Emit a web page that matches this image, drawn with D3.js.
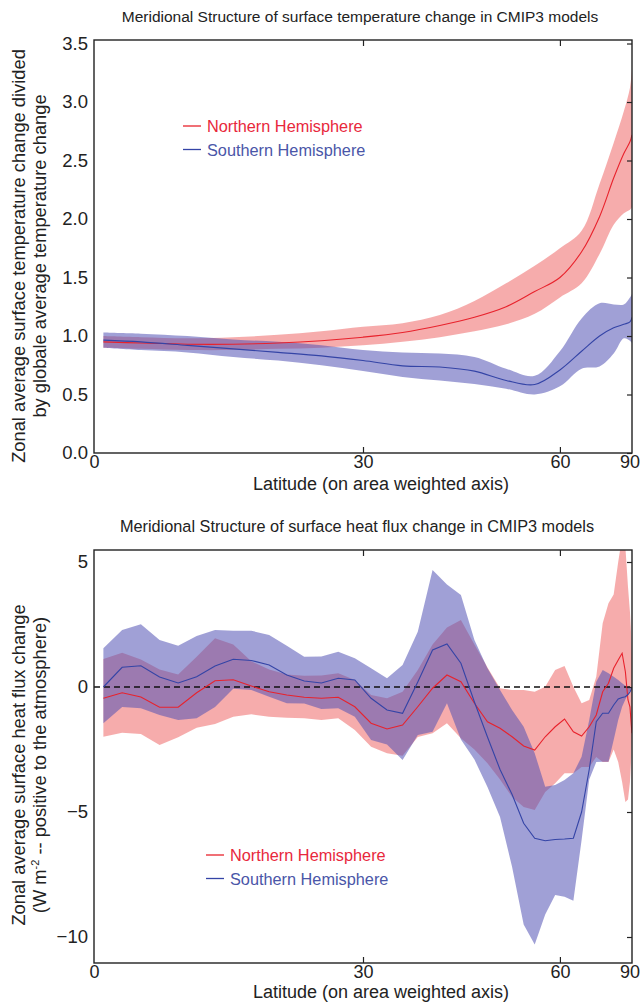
<!DOCTYPE html>
<html lang="en">
<head>
<meta charset="UTF-8">
<script src="https://cdnjs.cloudflare.com/ajax/libs/d3/7.8.5/d3.min.js"></script>
<title>CMIP3 meridional structure</title>
<style>
  body { margin: 0; background: #fff; }
  svg text { font-family: "Liberation Sans", Arial, Helvetica, sans-serif; fill: #222; }
</style>
</head>
<body>
<script>
// ---- data: top panel (surface temperature change / global mean) ----
var tempLat = [1, 5, 10, 15, 20, 25, 30, 35, 40, 45, 50, 55, 60, 65, 70, 75, 80, 85, 90];
var nhTemp   = [0.95, 0.94, 0.93, 0.93, 0.94, 0.96, 0.99, 1.03, 1.09, 1.16, 1.25, 1.38, 1.50, 1.72, 2.02, 2.35, 2.56, 2.66, 2.72];
var nhTempHi = [1.00, 0.99, 0.98, 0.99, 1.01, 1.04, 1.08, 1.11, 1.18, 1.30, 1.45, 1.60, 1.75, 1.90, 2.30, 2.65, 2.92, 3.12, 3.28];
var nhTempLo = [0.90, 0.89, 0.88, 0.88, 0.89, 0.90, 0.92, 0.95, 0.99, 1.04, 1.10, 1.19, 1.33, 1.45, 1.70, 1.95, 2.05, 2.08, 2.10];
var shTemp   = [0.965, 0.95, 0.92, 0.89, 0.86, 0.83, 0.79, 0.745, 0.735, 0.70, 0.62, 0.585, 0.71, 0.87, 1.00, 1.07, 1.10, 1.12, 1.16];
var shTempHi = [1.03, 1.02, 1.00, 0.97, 0.95, 0.92, 0.88, 0.86, 0.85, 0.82, 0.72, 0.66, 0.87, 1.15, 1.28, 1.27, 1.27, 1.33, 1.36];
var shTempLo = [0.90, 0.88, 0.86, 0.82, 0.79, 0.75, 0.70, 0.65, 0.62, 0.59, 0.55, 0.50, 0.57, 0.72, 0.74, 0.85, 0.98, 0.96, 0.94];

// ---- data: bottom panel (surface heat flux change, W m-2) ----
var fluxLat = [1, 3, 5, 7, 9, 11, 13, 15, 17, 19, 21, 23, 25, 27, 29, 31, 33, 35, 37, 39, 41, 43, 45,
               47, 49, 51, 53, 55, 57, 59, 61, 63, 65, 67, 69, 71, 73, 75, 77, 79, 81, 83, 85, 87, 89];
var nhFlux   = [-0.45, -0.23, -0.40, -0.81, -0.81, -0.23, 0.25, 0.29, 0.04, -0.19, -0.32, -0.41, -0.45, -0.41, -0.79,
                -1.45, -1.68, -1.52, -0.79, -0.05, 0.48, 0.21, -0.65, -1.39, -1.65, -1.99, -2.36, -2.52, -1.99, -1.59,
                -1.28, -1.79, -1.96, -1.59, -1.12, -0.19, 0.15, 0.75, 1.08, 1.35, 0.61, -0.52, -0.79, -1.50, -1.85];
var nhFluxHi = [1.12, 1.37, 1.10, 0.70, 0.50, 1.21, 1.95, 1.70, 1.03, 0.70, 0.50, 0.45, 0.46, 0.55, 0.28,
                -0.32, -0.45, -0.19, 0.68, 1.70, 2.38, 2.68, 1.70, 0.78, -0.05, -0.12, -0.12, -0.19, 0.01, 0.68,
                0.84, 0.01, -0.65, -0.52, 0.41, 2.55, 3.35, 3.70, 5.00, 6.00, 5.60, 4.00, 3.00, 2.00, 1.20];
var nhFluxLo = [-1.99, -1.83, -1.88, -2.32, -2.01, -1.63, -1.48, -1.19, -1.09, -1.19, -1.23, -1.25, -1.32, -1.25, -1.72,
                -2.39, -2.65, -2.75, -2.00, -1.85, -1.45, -2.05, -2.50, -3.05, -3.70, -4.40, -4.80, -4.92, -4.20, -3.85,
                -3.45, -3.45, -3.20, -3.20, -2.80, -3.00, -3.00, -2.50, -3.00, -3.80, -4.60, -4.50, -3.80, -2.80, -1.90];
var shFlux   = [0.00, 0.79, 0.85, 0.40, 0.16, 0.41, 0.84, 1.11, 1.06, 0.88, 0.48, 0.24, 0.16, 0.35, 0.28,
                -0.45, -0.92, -1.05, 0.20, 1.48, 1.72, 0.95, -0.60, -2.00, -3.30, -4.30, -5.45, -6.05, -6.15, -6.10,
                -6.08, -6.05, -5.00, -3.30, -1.39, -1.05, -1.05, -0.72, -0.48, -0.42, -0.39, -0.30, -0.20, -0.10, -0.02];
var shFluxHi = [1.55, 2.28, 2.51, 1.88, 1.65, 2.04, 2.28, 2.25, 2.25, 2.08, 1.65, 1.21, 1.22, 1.41, 1.15,
                0.75, 0.35, 0.88, 2.21, 4.68, 4.10, 3.68, 1.88, 0.75, -0.12, -0.92, -1.59, -2.65, -3.99, -3.92,
                -3.72, -3.45, -2.79, -1.32, 0.21, 0.68, 0.55, 0.41, 0.28, 0.15, 0.05, 0.02, 0.00, 0.00, 0.00];
var shFluxLo = [-1.45, -0.80, -0.85, -1.12, -1.32, -1.25, -0.80, -0.07, -0.12, -0.39, -0.65, -0.66, -0.88, -0.85, -1.19,
                -2.12, -2.30, -2.92, -1.92, -1.79, -0.65, -2.10, -2.90, -4.00, -5.20, -7.20, -9.50, -10.30, -9.10, -8.32,
                -8.39, -8.55, -6.12, -3.70, -3.00, -2.99, -2.99, -2.12, -1.32, -0.79, -0.50, -0.30, -0.15, -0.08, 0.00];

// ---- axis ticks ----
var latTicks = [0, 30, 60, 90];
var tempTicks = [0, 0.5, 1.0, 1.5, 2.0, 2.5, 3.0, 3.5];
var fluxTicks = [-10, -5, 0, 5];
var legendNames = ["Northern Hemisphere", "Southern Hemisphere"];

var RED = "#e8222c", BLUE = "#3444a6";
var RED_FILL = "#ee5a5a", BLUE_FILL = "#5252b4";

var svg = d3.select("body").append("svg").attr("width", 640).attr("height", 1002);

var defs = svg.append("defs");
var rad = Math.PI / 180;

// area weighted axis: position ~ sin(latitude)
var x = d3.scaleLinear().domain([0, 1]).range([94, 632]);
function xLat(lat) { return x(Math.sin(lat * rad)); }

function panel(opt) {
  var y = d3.scaleLinear().domain(opt.ydom).range([opt.bottom, opt.top]);
  var g = svg.append("g");

  defs.append("clipPath").attr("id", opt.id)
    .append("rect").attr("x", 94).attr("y", opt.top).attr("width", 538).attr("height", opt.bottom - opt.top);

  var plot = g.append("g").attr("clip-path", "url(#" + opt.id + ")");

  var area = d3.area()
    .x(function(d, i) { return xLat(opt.lat[i]); })
    .y0(function(d, i) { return y(d[0]); })
    .y1(function(d, i) { return y(d[1]); })
    .curve(opt.curve);
  var line = d3.line()
    .x(function(d, i) { return xLat(opt.lat[i]); })
    .y(function(d) { return y(d); })
    .curve(opt.curve);

  plot.append("path").datum(d3.zip(opt.nhLo, opt.nhHi))
    .attr("d", area).attr("fill", RED_FILL).attr("fill-opacity", 0.5);
  plot.append("path").datum(d3.zip(opt.shLo, opt.shHi))
    .attr("d", area).attr("fill", BLUE_FILL).attr("fill-opacity", 0.55);

  if (opt.zeroLine) {
    plot.append("line").attr("x1", 94).attr("x2", 632).attr("y1", y(0)).attr("y2", y(0))
      .attr("stroke", "#111").attr("stroke-width", 1.5).attr("stroke-dasharray", "6,4");
  }

  plot.append("path").datum(opt.nh).attr("d", line)
    .attr("fill", "none").attr("stroke", RED).attr("stroke-width", 1.1);
  plot.append("path").datum(opt.sh).attr("d", line)
    .attr("fill", "none").attr("stroke", BLUE).attr("stroke-width", 1.1);

  // frame
  g.append("rect").attr("x", 94).attr("y", opt.top).attr("width", 538).attr("height", opt.bottom - opt.top)
    .attr("fill", "none").attr("stroke", "#222").attr("stroke-width", 1.4);

  // left labels
  var left = g.append("g").attr("transform", "translate(94,0)")
    .call(d3.axisLeft(y).tickValues(opt.yticks).tickFormat(opt.yfmt).tickSize(0).tickPadding(6));
  left.select(".domain").remove();
  left.selectAll("text").style("font-size", "18.5px").attr("fill", "#222");

  // right inward ticks
  var right = g.append("g").attr("transform", "translate(632,0)")
    .call(d3.axisLeft(y).tickValues(opt.yticks).tickFormat("").tickSize(5));
  right.select(".domain").remove();
  right.selectAll("line").attr("stroke", "#222").attr("stroke-width", 1.2);

  // bottom labels
  var xt = latTicks.map(function(l) { return Math.sin(l * rad); });
  var bottom = g.append("g").attr("transform", "translate(0," + opt.bottom + ")")
    .call(d3.axisBottom(x).tickValues(xt).tickFormat(function(d, i) { return latTicks[i]; }).tickSize(0).tickPadding(2));
  bottom.select(".domain").remove();
  bottom.selectAll("text").style("font-size", "18px").attr("fill", "#222");
  // keep the last label ("90") inside the page
  bottom.selectAll("text").filter(function(d, i) { return i === latTicks.length - 1; })
    .attr("text-anchor", "end").attr("dx", 7.5);

  // inward ticks on top and bottom
  var inner = xt.slice(1, 3);
  var bt = g.append("g").attr("transform", "translate(0," + opt.bottom + ")")
    .call(d3.axisTop(x).tickValues(inner).tickFormat("").tickSize(6));
  bt.select(".domain").remove();
  var tt = g.append("g").attr("transform", "translate(0," + opt.top + ")")
    .call(d3.axisBottom(x).tickValues(inner).tickFormat("").tickSize(6));
  tt.select(".domain").remove();
  g.selectAll(".tick line").attr("stroke", "#222").attr("stroke-width", 1.2);

  // titles
  g.append("text").attr("x", opt.titleX).attr("y", opt.titleY).attr("text-anchor", "middle")
    .style("font-size", opt.titleSize).text(opt.title);
  g.append("text").attr("x", 381).attr("y", opt.bottom + opt.xlabelGap).attr("text-anchor", "middle")
    .style("font-size", "18px").text("Latitude (on area weighted axis)");

  var yl = g.append("g").attr("transform", "translate(0," + opt.ylabelY + ") rotate(-90)");
  yl.append("text").attr("x", 0).attr("y", 25).attr("text-anchor", "middle")
    .style("font-size", "18.3px").text(opt.ylabel[0]);
  var l2 = yl.append("text").attr("x", 0).attr("y", 46).attr("text-anchor", "middle")
    .style("font-size", "18.3px");
  opt.ylabel2(l2);

  // legend
  var cols = [RED, BLUE];
  var lg = g.append("g").attr("transform", "translate(" + opt.legX + "," + opt.legY + ")");
  legendNames.forEach(function(name, i) {
    lg.append("line").attr("x1", 0).attr("x2", 18).attr("y1", i * 23.5).attr("y2", i * 23.5)
      .attr("stroke", cols[i]).attr("stroke-width", 1.3);
    lg.append("text").attr("x", 24).attr("y", i * 23.5 + 6).style("font-size", "16.3px")
      .style("fill", i === 0 ? "#e8283c" : "#4a56a8").text(name);
  });
}

panel({
  id: "clipTop", top: 40, bottom: 453, ydom: [0, 3.53],
  lat: tempLat, nh: nhTemp, nhHi: nhTempHi, nhLo: nhTempLo, sh: shTemp, shHi: shTempHi, shLo: shTempLo,
  curve: d3.curveCatmullRom.alpha(0.5), zeroLine: false,
  yticks: tempTicks, yfmt: d3.format(".1f"),
  title: "Meridional Structure of surface temperature change in CMIP3 models",
  titleX: 360, titleY: 22, titleSize: "15.5px",
  xlabelGap: 37,
  ylabelY: 256,
  ylabel: ["Zonal average surface temperature change divided"],
  ylabel2: function(t) { t.text("by globale average temperature change"); },
  legX: 183, legY: 126
});

panel({
  id: "clipBot", top: 550, bottom: 963, ydom: [-11.04, 5.48],
  lat: fluxLat, nh: nhFlux, nhHi: nhFluxHi, nhLo: nhFluxLo, sh: shFlux, shHi: shFluxHi, shLo: shFluxLo,
  curve: d3.curveLinear, zeroLine: true,
  yticks: fluxTicks, yfmt: d3.format("d"),
  title: "Meridional Structure of surface heat flux change in CMIP3 models",
  titleX: 357, titleY: 532, titleSize: "16.3px",
  xlabelGap: 35,
  ylabelY: 765,
  ylabel: ["Zonal average surface heat flux change"],
  ylabel2: function(t) {
    t.append("tspan").text("(W m");
    t.append("tspan").attr("dy", -7).style("font-size", "11px").text("-2");
    t.append("tspan").attr("dy", 7).text(" -- positive to the atmosphere)");
  },
  legX: 206, legY: 855
});
</script>
</body>
</html>
